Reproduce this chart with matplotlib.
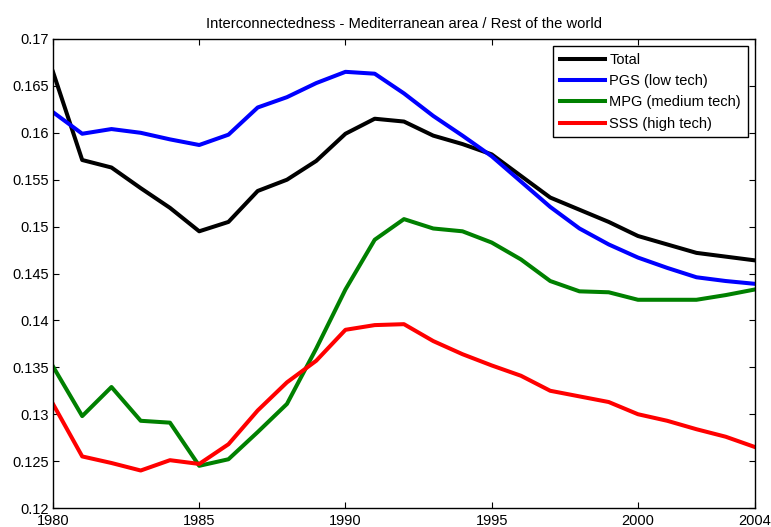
import numpy as np
import matplotlib
matplotlib.use("Agg")
import matplotlib.pyplot as plt

years = list(range(1980, 2005))

total = [0.1665, 0.1571, 0.1563, 0.1541, 0.1520, 0.1495, 0.1505, 0.1538, 0.1550, 0.1570,
         0.1599, 0.1615, 0.1612, 0.1597, 0.1588, 0.1577, 0.1554, 0.1531, 0.1518, 0.1505,
         0.1490, 0.1481, 0.1472, 0.1468, 0.1464]
pgs = [0.1622, 0.1599, 0.1604, 0.1600, 0.1593, 0.1587, 0.1598, 0.1627, 0.1638, 0.1653,
       0.1665, 0.1663, 0.1642, 0.1618, 0.1597, 0.1575, 0.1548, 0.1521, 0.1498, 0.1481,
       0.1467, 0.1456, 0.1446, 0.1442, 0.1439]
mpg = [0.1351, 0.1298, 0.1329, 0.1293, 0.1291, 0.1245, 0.1252, 0.1281, 0.1311, 0.1370,
       0.1433, 0.1486, 0.1508, 0.1498, 0.1495, 0.1483, 0.1465, 0.1442, 0.1431, 0.1430,
       0.1422, 0.1422, 0.1422, 0.1427, 0.1433]
sss = [0.1311, 0.1255, 0.1248, 0.1240, 0.1251, 0.1247, 0.1268, 0.1304, 0.1334, 0.1357,
       0.1390, 0.1395, 0.1396, 0.1378, 0.1364, 0.1352, 0.1341, 0.1325, 0.1319, 0.1313,
       0.1300, 0.1293, 0.1284, 0.1276, 0.1265]

labels = ["Total", "PGS (low tech)", "MPG (medium tech)", "SSS (high tech)"]
colors = ["black", "blue", "green", "red"]

plt.rcParams['font.family'] = ['Liberation Sans', 'DejaVu Sans']

fig = plt.figure(figsize=(7.71, 5.27), dpi=100)
ax = fig.add_axes([0.0687, 0.036, 0.9105, 0.89])

for series, lab, col in zip([total, pgs, mpg, sss], labels, colors):
    ax.plot(years, series, color=col, linewidth=2.9, label=lab)

ax.set_xlim(1980, 2004)
ax.set_ylim(0.12, 0.17)
ax.set_xticks([1980, 1985, 1990, 1995, 2000, 2004])
ax.set_yticks(np.arange(0.12, 0.1701, 0.005))
ax.set_yticklabels(["0.12", "0.125", "0.13", "0.135", "0.14", "0.145",
                    "0.15", "0.155", "0.16", "0.165", "0.17"])
ax.tick_params(direction="in", top=True, right=True, length=4, labelsize=10.5)
ax.tick_params(axis="x", pad=4.5)
ax.tick_params(axis="y", pad=3)
for sp in ax.spines.values():
    sp.set_linewidth(1.0)

ax.set_title("Interconnectedness - Mediterranean area / Rest of the world", fontsize=10.6, pad=8)

leg = ax.legend(loc="upper right", fontsize=10.5, fancybox=False, framealpha=1,
                edgecolor="black", handlelength=3.1, borderaxespad=0.5,
                labelspacing=0.5, handletextpad=0.3, borderpad=0.45)
leg.get_frame().set_linewidth(1.0)

fig.savefig("out.png", dpi=100)
